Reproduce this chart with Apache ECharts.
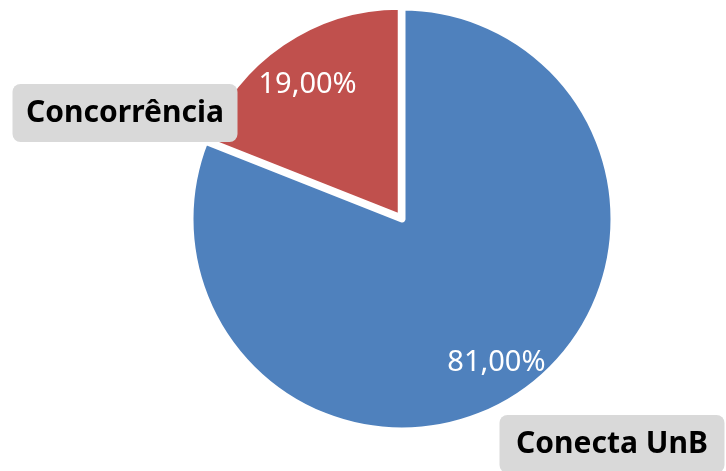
<!DOCTYPE html>
<html>
<head>
<meta charset="utf-8">
<script src="https://cdn.jsdelivr.net/npm/echarts@6/dist/echarts.min.js"></script>
<style>html,body{margin:0;padding:0;background:#fff}#c{width:726px;height:471px}</style>
</head>
<body>
<div id="c"></div>
<script>
const categories = ['Conecta UnB', 'Concorrência'];
const values = [81, 19];
const colors = ['#4F81BD', '#C0504D'];

const chart = echarts.init(document.getElementById('c'));
const center = [402, 219];
const R = 212;
const fmtPct = v => v.toFixed(2).replace('.', ',') + '%';
const outerPos = [{ x: 612, y: 444 }, { x: 125, y: 113 }];

// Series 1: large slice (index 0) drawn, other transparent; carries category labels
const s1Data = categories.map((c, i) => ({
  name: c, value: values[i],
  itemStyle: i === 0 ? { color: colors[i], borderColor: '#fff', borderWidth: 7 }
                     : { color: 'transparent', borderWidth: 0 }
}));
// Series 2: exploded small slice (index 1)
const s2Data = categories.map((c, i) => ({
  name: c, value: values[i], selected: i === 1,
  itemStyle: i === 1 ? { color: colors[i], borderColor: '#fff', borderWidth: 4 }
                     : { color: 'transparent', borderWidth: 0 }
}));

chart.setOption({
  animation: false,
  series: [
    {
      type: 'pie', center: center, radius: [0, R], startAngle: 90, clockwise: true,
      silent: true, z: 2,
      label: {
        show: true, position: 'inside', formatter: '{b}', overflow: 'none',
        fontFamily: 'Noto Sans', fontWeight: 'bold', fontSize: 30, color: '#000',
        backgroundColor: '#D9D9D9', borderRadius: 8, padding: [12, 15],
        width: 195, lineHeight: 34, align: 'center'
      },
      labelLine: { show: false },
      labelLayout: p => ({ x: outerPos[p.dataIndex].x, y: outerPos[p.dataIndex].y, align: 'center', verticalAlign: 'middle' }),
      data: s1Data
    },
    {
      type: 'pie', center: center, radius: [0, 208], startAngle: 90, clockwise: true,
      selectedMode: 'single', selectedOffset: 4, silent: true, z: 1,
      label: { show: false }, labelLine: { show: false },
      data: s2Data
    },
    {
      type: 'pie', center: center, radius: [118, R], startAngle: 90, clockwise: true,
      silent: true, z: 3,
      itemStyle: { color: 'transparent', borderWidth: 0 },
      label: {
        show: true, position: 'inside', offset: [0, 5],
        formatter: p => fmtPct(p.value),
        fontFamily: 'Noto Sans', fontSize: 29, color: '#fff'
      },
      labelLine: { show: false },
      data: categories.map((c, i) => ({ name: c, value: values[i] }))
    }
  ]
});
</script>
</body>
</html>
